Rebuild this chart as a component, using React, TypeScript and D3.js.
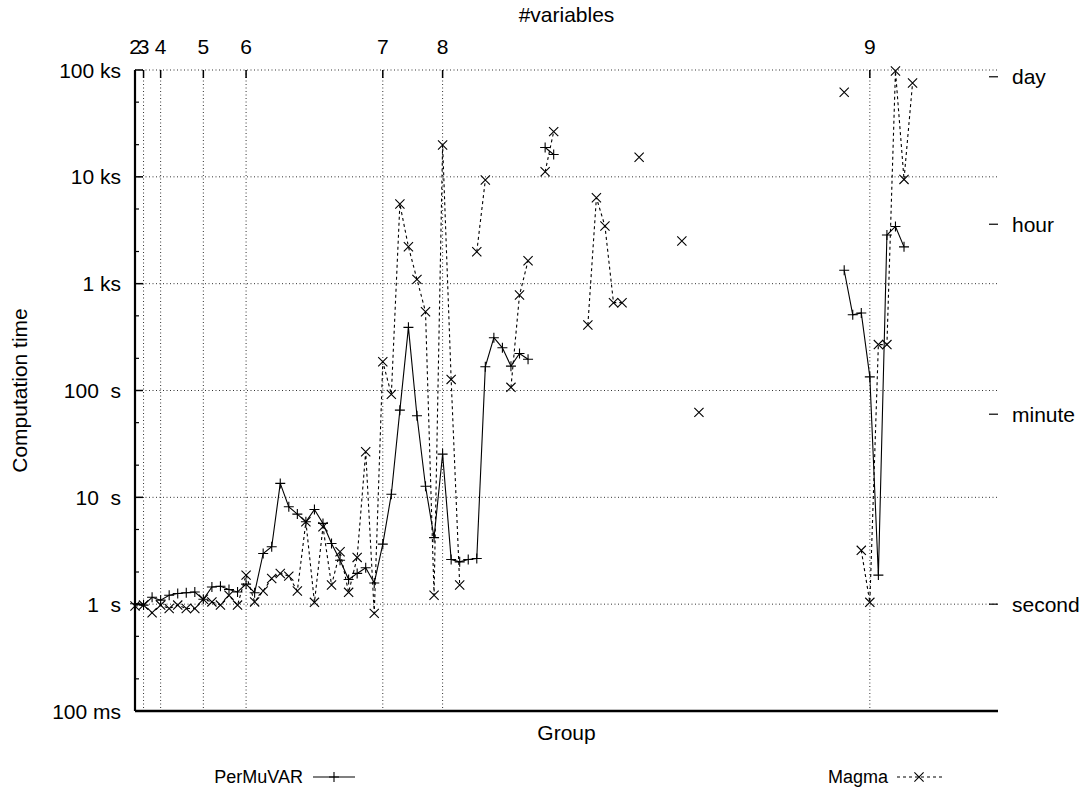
import React from 'react';
import * as d3 from 'd3';

// Computation time (seconds) per group; null = no result
const permuvar: (number | null)[] = [
  1.01, 0.98, 1.16, 1.09, 1.21, 1.26, 1.28, 1.30, 1.11, 1.45,
  1.47, 1.37, 1.30, 1.54, 1.28, 2.98, 3.45, 13.5, 8.15, 6.97,
  5.9, 7.7, 5.7, 3.7, 2.58, 1.70, 1.94, 2.19, 1.58, 3.65,
  10.7, 65.5, 390, 58, 12.7, 4.2, 25.4, 2.62, 2.49, 2.62,
  2.68, 167, 312, 251, 169, 222, 196, null, 18800, 16200,
  null, null, null, null, null, null, null, null, null, null,
  null, null, null, null, null, null, null, null, null, null,
  null, null, null, null, null, null, null, null, null, null,
  null, null, null, 1335, 511, 532, 134, 1.87, 2850, 3430,
  2210, null,
];

const magma: (number | null)[] = [
  0.96, 0.98, 0.83, 0.98, 0.91, 0.98, 0.91, 0.91, 1.11, 1.05,
  0.98, 1.21, 0.98, 1.87, 1.05, 1.33, 1.74, 1.94, 1.83, 1.33,
  5.9, 1.04, 5.3, 1.51, 3.09, 1.29, 2.74, 26.7, 0.82, 186,
  92, 5560, 2215, 1097, 546, 1.21, 19860, 127, 1.51, null,
  1990, 9330, null, null, 107, 782, 1638, null, 11170, 26500,
  null, null, null, 410, 6370, 3460, 664, 664, null, 15230,
  null, null, null, null, 2505, null, 62.4, null, null, null,
  null, null, null, null, null, null, null, null, null, null,
  null, null, null, 61800, null, 3.19, 1.04, 269, 269, 97700,
  9460, 75500,
];

const varLabels = ['2', '3', '4', '5', '6', '7', '8', '9'];
const varGroups = [0, 1, 3, 8, 13, 29, 36, 86];

const yTickValues = [0.1, 1, 10, 100, 1000, 10000, 100000];
const yTickLabels = ['100 ms', '1  s', '10  s', '100  s', '1 ks', '10 ks', '100 ks'];
const yMinorMultipliers = [2, 5];

const timeUnits = ['second', 'minute', 'hour', 'day'];
const timeSeconds = [1, 60, 3600, 86400];

const seriesNames = ['PerMuVAR', 'Magma'];

const FONT = '"Liberation Sans", Arial, Helvetica, sans-serif';

export default function App() {
  const W = 1084, H = 789;
  const L = 135, R = 998, T = 70, B = 711;
  const x = d3.scaleLinear().domain([0, 101]).range([L, R]);
  const y = d3.scaleLog().domain([0.1, 1e5]).range([B, T]);

  const lineGen = d3
    .line<number | null>()
    .defined((d) => d !== null)
    .x((_, i) => x(i))
    .y((d) => y(d as number));

  const plus = (cx: number, cy: number, r = 5) =>
    `M${cx - r},${cy}H${cx + r}M${cx},${cy - r}V${cy + r}`;
  const cross = (cx: number, cy: number, r = 4.6) =>
    `M${cx - r},${cy - r}L${cx + r},${cy + r}M${cx - r},${cy + r}L${cx + r},${cy - r}`;

  const minorTicks: number[] = [];
  yTickValues.slice(0, -1).forEach((v) => yMinorMultipliers.forEach((m) => minorTicks.push(v * m)));

  const gridDash = '1,2.5';
  const fs = 21;
  const lfs = 18;

  return (
    <svg
      width={W}
      height={H}
      style={{ position: 'absolute', left: 0, top: 0, background: '#fff' }}
      fontFamily={FONT}
    >
      <rect x={0} y={0} width={W} height={H} fill="#fff" />
      {/* horizontal grid */}
      {yTickValues.slice(1).map((v) => (
        <line key={'hg' + v} x1={L} x2={R} y1={y(v)} y2={y(v)} stroke="#333" strokeWidth={1} strokeDasharray={gridDash} />
      ))}
      {/* vertical grid at #variables changes */}
      {varGroups.slice(1).map((g) => (
        <line key={'vg' + g} x1={x(g)} x2={x(g)} y1={T} y2={B} stroke="#333" strokeWidth={1} strokeDasharray={gridDash} />
      ))}
      {/* top ticks */}
      {varGroups.map((g) => (
        <line key={'tt' + g} x1={x(g)} x2={x(g)} y1={T} y2={T + 8} stroke="#000" strokeWidth={1.5} />
      ))}
      {/* axes */}
      <line x1={L} x2={L} y1={T} y2={B} stroke="#000" strokeWidth={2.2} />
      <line x1={L} x2={R} y1={B} y2={B} stroke="#000" strokeWidth={2.5} />
      {/* minor left ticks */}
      {minorTicks.map((v) => (
        <line key={'mt' + v} x1={L} x2={L + 4} y1={y(v)} y2={y(v)} stroke="#000" strokeWidth={1.2} />
      ))}
      {/* left ticks and labels */}
      {yTickValues.map((v, i) => (
        <g key={'yt' + v}>
          <line x1={L} x2={L + 8} y1={y(v)} y2={y(v)} stroke="#000" strokeWidth={1.5} />
          <text x={L - 14} y={y(v)} dy="0.36em" textAnchor="end" fontSize={fs} style={{ whiteSpace: 'pre' }}>
            {yTickLabels[i]}
          </text>
        </g>
      ))}
      {/* right time units */}
      {timeUnits.map((u, i) => (
        <g key={u}>
          <line x1={R - 9} x2={R} y1={y(timeSeconds[i])} y2={y(timeSeconds[i])} stroke="#000" strokeWidth={1.2} />
          <text x={R + 14} y={y(timeSeconds[i])} dy="0.36em" fontSize={fs}>
            {u}
          </text>
        </g>
      ))}
      {/* top labels */}
      {varLabels.map((lab, i) => (
        <text key={'vl' + lab} x={x(varGroups[i])} y={54} textAnchor="middle" fontSize={fs}>
          {lab}
        </text>
      ))}
      <text x={(L + R) / 2} y={22} textAnchor="middle" fontSize={fs}>#variables</text>
      <text x={(L + R) / 2} y={740} textAnchor="middle" fontSize={fs}>Group</text>
      <text transform={`translate(27,${(T + B) / 2}) rotate(-90)`} textAnchor="middle" fontSize={fs}>
        Computation time
      </text>

      {/* PerMuVAR */}
      <path d={lineGen(permuvar) || ''} fill="none" stroke="#000" strokeWidth={1.1} />
      {permuvar.map((v, i) =>
        v === null ? null : <path key={'p' + i} d={plus(x(i), y(v))} stroke="#000" strokeWidth={1.1} fill="none" />
      )}
      {/* Magma */}
      <path d={lineGen(magma) || ''} fill="none" stroke="#000" strokeWidth={1.1} strokeDasharray="3,3" />
      {magma.map((v, i) =>
        v === null ? null : <path key={'m' + i} d={cross(x(i), y(v))} stroke="#000" strokeWidth={1.1} fill="none" />
      )}

      {/* legend */}
      <text x={303} y={777} dy="0.36em" textAnchor="end" fontSize={lfs}>{seriesNames[0]}</text>
      <line x1={313} x2={355} y1={777} y2={777} stroke="#000" strokeWidth={1.1} />
      <path d={plus(334, 777)} stroke="#000" strokeWidth={1.1} />
      <text x={888} y={777} dy="0.36em" textAnchor="end" fontSize={lfs}>{seriesNames[1]}</text>
      <line x1={897} x2={942} y1={777} y2={777} stroke="#000" strokeWidth={1.1} strokeDasharray="3,3" />
      <path d={cross(919, 777)} stroke="#000" strokeWidth={1.1} />
    </svg>
  );
}
